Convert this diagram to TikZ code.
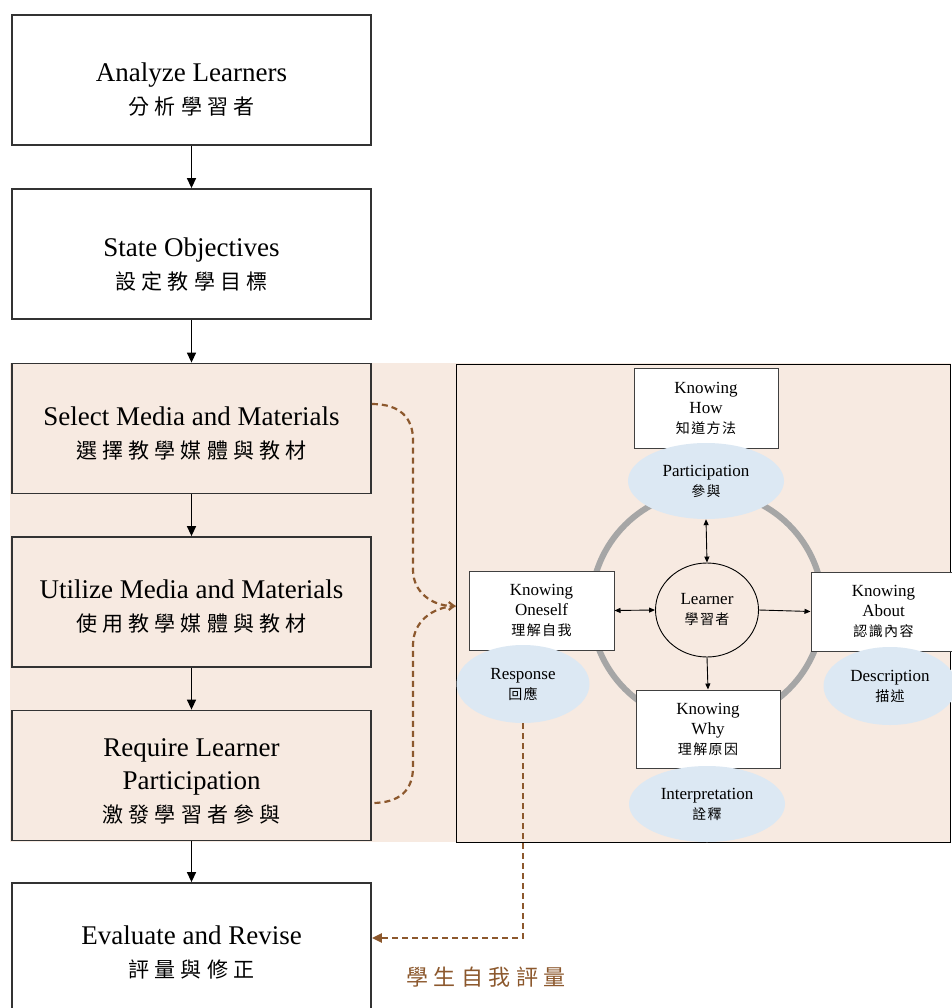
\documentclass[tikz,border=0pt]{standalone}
\usepackage{fontspec}
\setmainfont{Liberation Serif}
\newfontfamily\cjkA[LetterSpace=25]{Noto Sans CJK TC}
\newfontfamily\cjkB[LetterSpace=10]{Noto Sans CJK TC}
\usetikzlibrary{shapes.geometric,arrows.meta,calc}
\definecolor{peach}{RGB}{247,234,225}
\definecolor{lblue}{RGB}{220,232,243}
\definecolor{ringgray}{RGB}{166,166,166}
\definecolor{brn}{RGB}{140,88,45}
\newcommand\zhA[1]{{\cjkA\fontsize{21}{34}\selectfont #1}}
\newcommand\zhB[1]{{\cjkB\fontsize{14}{20}\selectfont #1}}
\begin{document}
\begin{tikzpicture}[x=1pt,y=-1pt,
  mainbox/.style={draw=black!80, line width=1.8pt, minimum width=359pt, minimum height=130pt, inner sep=0pt},
  mtext/.style={align=center, font=\fontsize{27}{33}\selectfont, inner sep=0pt},
  kbox/.style={draw=black!75, line width=1pt, fill=white, minimum width=144pt, minimum height=80pt,
    align=center, font=\fontsize{17}{20}\selectfont, inner sep=0pt},
  bell/.style={ellipse, fill=lblue, minimum width=156pt, minimum height=76pt,
    align=center, font=\fontsize{17}{20}\selectfont, inner sep=0pt},
  arr/.style={line width=1.4pt, -{Triangle[length=10pt,width=9pt]}},
  sarr/.style={line width=0.9pt, -{Triangle[length=6pt,width=5pt]}},
  darr/.style={line width=0.9pt, {Triangle[length=6pt,width=5pt]}-{Triangle[length=6pt,width=5pt]}},
  dashline/.style={draw=brn, line width=2.2pt, dash pattern=on 6pt off 4pt},
]
\useasboundingbox (0,0) rectangle (951,1008);
\fill[white] (0,0) rectangle (951,1008);
% peach background
\fill[peach] (10,363) rectangle (951,842);

% main column
\node[mainbox, fill=white] (an) at (191.5,80) {};
\node[mtext] (an-t) at (191.5,90) {Analyze Learners\\\zhA{分析學習者}};
\node[mainbox, fill=white] (so) at (191.5,254) {};
\node[mtext] (so-t) at (191.5,264.5) {State Objectives\\\zhA{設定教學目標}};
\node[mainbox, fill=peach] (sel) at (191.5,428.5) {};
\node[mtext] (sel-t) at (191.5,433.5) {Select Media and Materials\\\zhA{選擇教學媒體與教材}};
\node[mainbox, fill=peach] (uti) at (191.5,602) {};
\node[mtext] (uti-t) at (191.5,606.5) {Utilize Media and Materials\\\zhA{使用教學媒體與教材}};
\node[mainbox, fill=peach] (req) at (191.5,775.5) {};
\node[mtext] (req-t) at (191.5,781) {Require Learner\\Participation\\\zhA{激發學習者參與}};
\node[mainbox, fill=white] (eva) at (191.5,948) {};
\node[mtext] (eva-t) at (191.5,952.5) {Evaluate and Revise\\\zhA{評量與修正}};

\draw[arr] (an) -- (so);
\draw[arr] (so) -- (sel);
\draw[arr] (sel) -- (uti);
\draw[arr] (uti) -- (req);
\draw[arr] (req) -- (eva);

% right panel
\node[draw=black, line width=1pt, minimum width=494.5pt, minimum height=478pt, inner sep=0pt] (panel) at (703.25,603) {};
\draw[ringgray, line width=6pt] (707,607) circle [radius=116pt];

\node[ellipse, draw=black, line width=0.9pt, fill=peach, minimum width=103pt, minimum height=94pt,
  align=center, font=\fontsize{17}{20}\selectfont, inner sep=0pt] (learn) at (707,610) {Learner\\\zhB{學習者}};

\node[kbox] (how) at (706,408) {Knowing\\How\\\zhB{知道方法}};
\node[kbox, minimum height=79pt, minimum width=145pt] (self) at (541.5,610.5) {Knowing\\Oneself\\\zhB{理解自我}};
\node[kbox, minimum height=79pt, minimum width=145pt] (about) at (883.5,611.5) {Knowing\\About\\\zhB{認識內容}};
\node[kbox, minimum height=78pt] (why) at (708,729) {Knowing\\Why\\\zhB{理解原因}};

\node[bell] (part) at (706,481) {Participation\\\zhB{參與}};
\node[bell, minimum width=133pt, minimum height=78pt] (resp) at (523,684) {Response\\\zhB{回應}};
\node[bell, minimum width=133pt, minimum height=78pt] (desc) at (890,686) {Description\\\zhB{描述}};
\node[bell] (interp) at (707,804) {Interpretation\\\zhB{詮釋}};

\draw[darr] (part.south) -- (learn.north);
\draw[darr] (self.east) -- (learn.west);
\draw[sarr] (learn.east) -- (about.west);
\draw[sarr] (learn.south) -- (why.north);

% dashed brace
\coordinate (b1) at ([yshift=24.5pt]sel.east);
\coordinate (b2) at ([yshift=-27.5pt]req.east);
\coordinate (tip) at ([yshift=-3pt]panel.west);
\draw[dashline, -{Straight Barb[length=5pt,width=8pt]}] (b1) .. controls (400,404) and (413,418) .. (413,440) -- (413,570) .. controls (413,592) and (432,606) .. (tip);
\draw[dashline] (tip) .. controls (432,607) and (413,622) .. (413,645) -- (413,767) .. controls (413,790) and (400,803) .. (b2);

% self evaluation feedback
\draw[dashline, -{Triangle[length=10pt,width=9pt]}] (resp.south) |- ([yshift=10pt]eva.east);
\node[text=brn, inner sep=0pt] (lbl) at (486,977) {\cjkA\fontsize{22}{26}\selectfont 學生自我評量};
\end{tikzpicture}
\end{document}
